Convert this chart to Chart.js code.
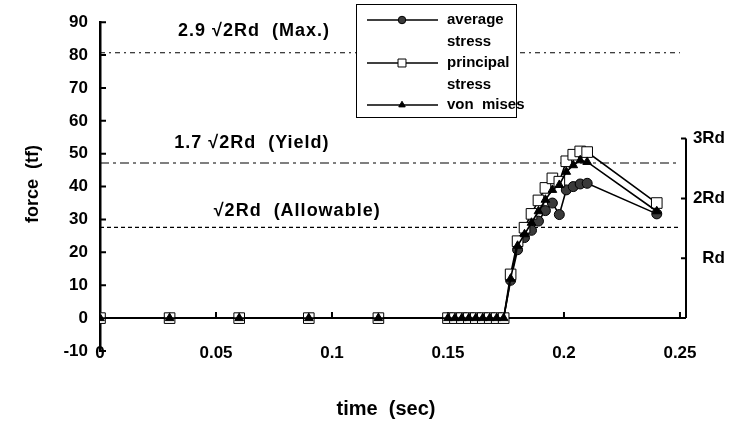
<!DOCTYPE html>
<html>
<head>
<meta charset="utf-8">
<script src="https://cdn.jsdelivr.net/npm/chart.js@4.4.0/dist/chart.umd.min.js"></script>
<style>
  html, body { margin: 0; padding: 0; background: #fff; }
  #wrap { width: 737px; height: 430px; position: relative; }
</style>
</head>
<body>
<div id="wrap"><canvas id="chart"></canvas></div>
<script>
// time steps (sec)
const times = [0, 0.03, 0.06, 0.09, 0.12, 0.15, 0.153, 0.156, 0.159, 0.162, 0.165, 0.168, 0.171, 0.174,
  0.177, 0.18, 0.183, 0.186, 0.189, 0.192, 0.195, 0.198, 0.201, 0.204, 0.207, 0.21, 0.24];

// force (tf)
const averageStress   = [0, 0, 0, 0, 0, 0, 0, 0, 0, 0, 0, 0, 0, 0,
  11.5, 20.8, 24.5, 26.7, 29.5, 32.7, 35, 31.5, 39, 40, 40.8, 41, 31.7];
const principalStress = [0, 0, 0, 0, 0, 0, 0, 0, 0, 0, 0, 0, 0, 0,
  13.3, 23.4, 27.5, 31.7, 35.8, 39.6, 42.5, 41.5, 47.7, 49.7, 50.7, 50.5, 35];
const vonMises        = [0, 0, 0, 0, 0, 0, 0, 0, 0, 0, 0, 0, 0, 0,
  12, 22, 25.5, 29, 32.5, 36, 39, 40.5, 44.5, 46.5, 48, 47.5, 32.5];

const seriesNames = ['average\nstress', 'principal\nstress', 'von  mises'];

const xTicks = [0, 0.05, 0.1, 0.15, 0.2, 0.25];
const yTicks = [-10, 0, 10, 20, 30, 40, 50, 60, 70, 80, 90];

// right axis in Rd units (Rd ~ 18.2 tf)
const rdValues = [18.2, 36.4, 54.6];
const rdLabels = ['Rd', '2Rd', '3Rd'];

// design limits
const limitValues = [80.7, 47.2, 27.6];
const limitLabels = ['2.9 \u221A2Rd  (Max.)', '1.7 \u221A2Rd  (Yield)', '\u221A2Rd  (Allowable)'];
const limitEnd = 0.25;

const FONT = "'Liberation Sans', Arial, sans-serif";

const toPoints = arr => arr.map((v, i) => ({ x: times[i], y: v }));

const seriesStyles = [
  { pointStyle: 'circle',   radius: 5,   bg: '#3a3a3a' },
  { pointStyle: 'rect',     radius: 7.5, bg: '#ffffff' },
  { pointStyle: 'triangle', radius: 5,   bg: '#000000' }
];

const seriesData = [averageStress, principalStress, vonMises];

const datasets = seriesData.map((arr, i) => ({
  label: seriesNames[i],
  data: toPoints(arr),
  borderColor: '#000',
  borderWidth: 1.6,
  pointStyle: seriesStyles[i].pointStyle,
  pointRadius: seriesStyles[i].radius,
  pointBackgroundColor: seriesStyles[i].bg,
  pointBorderColor: '#000',
  pointBorderWidth: 1,
  order: 3 - i,
  tension: 0
}));

const limitDashes = [[5, 4, 2, 4], [9, 4, 3, 4], [4, 3]];
limitValues.forEach((v, i) => {
  datasets.push({
    label: 'limit' + i,
    data: [{ x: 0, y: v }, { x: limitEnd, y: v }],
    borderColor: '#000',
    borderWidth: 1.1,
    borderDash: limitDashes[i],
    pointRadius: 0,
    order: 10
  });
});

const paperPlugin = {
  id: 'paper',
  beforeDatasetsDraw(chart) {
    const { ctx, chartArea, scales: { x, y } } = chart;
    const y0 = y.getPixelForValue(0);
    ctx.save();
    ctx.strokeStyle = '#000';
    ctx.lineWidth = 2;
    ctx.beginPath();
    // x axis at zero
    ctx.moveTo(chartArea.left, y0);
    ctx.lineTo(chartArea.right, y0);
    xTicks.forEach(t => {
      const px = x.getPixelForValue(t);
      ctx.moveTo(px, y0);
      ctx.lineTo(px, y0 - 6);
    });
    // inward ticks on left axis
    yTicks.forEach(v => {
      const py = y.getPixelForValue(v);
      ctx.moveTo(chartArea.left, py);
      ctx.lineTo(chartArea.left + 6, py);
    });
    // right axis 0 .. 3Rd
    const yTop = y.getPixelForValue(rdValues[rdValues.length - 1]);
    ctx.moveTo(chartArea.right, y0);
    ctx.lineTo(chartArea.right, yTop);
    rdValues.forEach(v => {
      const py = y.getPixelForValue(v);
      ctx.moveTo(chartArea.right, py);
      ctx.lineTo(chartArea.right - 5, py);
    });
    ctx.stroke();
    ctx.restore();
  },
  afterDatasetsDraw(chart) {
    const { ctx, chartArea, scales: { x, y } } = chart;
    ctx.save();
    ctx.fillStyle = '#000';
    ctx.textBaseline = 'middle';

    // x tick labels, tucked right under the -10 end of the axis
    ctx.font = 'bold 17px ' + FONT;
    ctx.textAlign = 'center';
    xTicks.forEach(t => {
      ctx.fillText(String(+t.toFixed(2)), x.getPixelForValue(t), chartArea.bottom + 2);
    });

    // limit labels
    ctx.font = 'bold 18px ' + FONT;
    ctx.letterSpacing = '1px';
    const labelAt = [[0.0664, 87.3], [0.0655, 53.2], [0.085, 32.7]];
    limitLabels.forEach((txt, i) => {
      ctx.fillText(txt, x.getPixelForValue(labelAt[i][0]), y.getPixelForValue(labelAt[i][1]));
    });
    ctx.letterSpacing = '0px';

    // legend box
    const bx = 356, by = 4, bw = 160, bh = 113;
    ctx.fillStyle = '#fff';
    ctx.fillRect(bx, by, bw, bh);
    ctx.strokeStyle = '#000';
    ctx.lineWidth = 1;
    ctx.strokeRect(bx + 0.5, by + 0.5, bw, bh);
    const rowY = [20, 63, 105];
    ctx.font = 'bold 15px ' + FONT;
    ctx.textAlign = 'left';
    seriesNames.forEach((name, i) => {
      const ly = by + rowY[i] - 4;
      ctx.beginPath();
      ctx.lineWidth = 1.6;
      ctx.moveTo(bx + 11, ly);
      ctx.lineTo(bx + 82, ly);
      ctx.stroke();
      ctx.lineWidth = 1;
      ctx.fillStyle = seriesStyles[i].bg;
      Chart.helpers.drawPoint(ctx, {
        pointStyle: seriesStyles[i].pointStyle,
        radius: seriesStyles[i].radius * 0.75,
        rotation: 0,
        borderWidth: 1
      }, bx + 46, ly);
      ctx.fillStyle = '#000';
      name.split('\n').forEach((line, k) => {
        ctx.fillText(line, bx + 91, ly + k * 22);
      });
    });

    // axis titles
    ctx.font = 'bold 20px ' + FONT;
    ctx.textAlign = 'center';
    ctx.fillText('time  (sec)', 386, 409);
    ctx.save();
    ctx.translate(33, 184);
    ctx.rotate(-Math.PI / 2);
    ctx.font = 'bold 18px ' + FONT;
    ctx.fillText('force  (tf)', 0, 0);
    ctx.restore();
    ctx.restore();
  }
};

new Chart(document.getElementById('chart'), {
  type: 'line',
  data: { datasets },
  options: {
    responsive: true,
    maintainAspectRatio: false,
    animation: false,
    devicePixelRatio: 1,
    layout: { padding: { top: 21, right: 12, left: 0, bottom: 0 } },
    plugins: {
      legend: { display: false },
      tooltip: { enabled: false }
    },
    scales: {
      x: {
        type: 'linear',
        min: 0,
        max: 0.2526,
        afterBuildTicks: s => { s.ticks = xTicks.map(v => ({ value: v })); },
        afterFit: s => { s.height = 79; },
        grid: { display: false, drawTicks: false },
        border: { display: false },
        ticks: { display: false }
      },
      y: {
        position: 'left',
        min: -10,
        max: 90,
        afterBuildTicks: s => { s.ticks = yTicks.map(v => ({ value: v })); },
        afterFit: s => { s.width = 100; },
        grid: { display: false, drawTicks: false },
        border: { display: true, color: '#000', width: 2.5 },
        ticks: {
          padding: 12,
          color: '#000',
          font: { family: FONT, size: 17, weight: 'bold' }
        }
      },
      y2: {
        position: 'right',
        min: -10,
        max: 90,
        afterBuildTicks: s => { s.ticks = rdValues.map(v => ({ value: v })); },
        afterFit: s => { s.width = 39; },
        grid: { display: false, drawTicks: false },
        border: { display: false },
        ticks: {
          padding: 4,
          crossAlign: 'far',
          color: '#000',
          font: { family: FONT, size: 17, weight: 'bold' },
          callback: (v, i) => rdLabels[i]
        }
      }
    }
  },
  plugins: [paperPlugin]
});
</script>
</body>
</html>
